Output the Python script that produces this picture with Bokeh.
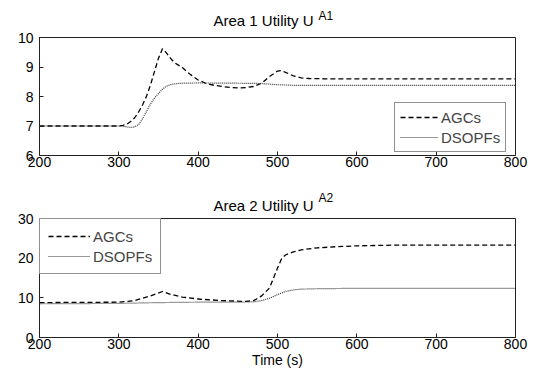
from bokeh.plotting import figure
from bokeh.layouts import column
from bokeh.models import Legend, LegendItem, FixedTicker, Range1d, Label
from bokeh.embed import file_html
from bokeh.resources import INLINE

FONT = "Liberation Sans"

# ---- Area 1 data ----
t1_agc = [200, 300, 305, 310, 315, 320, 325, 330, 335, 340, 345, 350, 355, 360, 365, 370, 380, 390, 400,
          410, 420, 430, 440, 450, 460, 470, 480, 490, 500, 505, 510, 520, 530, 540, 560, 600, 700, 800]
u1_agc = [7.0, 7.0, 7.02, 7.06, 7.15, 7.28, 7.48, 7.72, 8.02, 8.4, 8.85, 9.3, 9.62, 9.48, 9.3, 9.15, 8.98, 8.75, 8.56,
          8.44, 8.38, 8.34, 8.31, 8.29, 8.3, 8.34, 8.45, 8.68, 8.86, 8.88, 8.82, 8.7, 8.63, 8.61, 8.6, 8.6, 8.6, 8.6]
t1_dso = [200, 300, 305, 310, 315, 320, 325, 330, 335, 340, 345, 350, 355, 360, 365, 370, 380, 400, 450, 480,
          490, 500, 520, 800]
u1_dso = [7.0, 7.0, 6.99, 6.97, 6.95, 6.97, 7.05, 7.25, 7.5, 7.75, 7.95, 8.1, 8.25, 8.35, 8.4, 8.43, 8.45, 8.46,
          8.45, 8.44, 8.42, 8.4, 8.38, 8.38]

# ---- Area 2 data ----
t2_agc = [200, 300, 320, 340, 355, 365, 380, 400, 430, 460, 470, 480, 490, 495, 500, 505, 510, 520, 530, 550,
          575, 600, 650, 800]
u2_agc = [8.8, 8.9, 9.3, 10.5, 11.6, 10.9, 10.2, 9.7, 9.3, 9.1, 9.3, 10.5, 12.5, 15.0, 17.5, 19.8, 20.8, 21.6,
          22.1, 22.6, 22.9, 23.1, 23.3, 23.3]
t2_dso = [200, 300, 350, 400, 450, 470, 480, 490, 500, 510, 520, 530, 550, 600, 800]
u2_dso = [8.5, 8.6, 8.8, 8.9, 8.9, 9.0, 9.3, 9.9, 10.8, 11.6, 12.0, 12.2, 12.3, 12.4, 12.4]

x_ticks = [200, 300, 400, 500, 600, 700, 800]
y1_ticks = [6, 7, 8, 9, 10]
y2_ticks = [0, 10, 20, 30]
series_names = ["AGCs", "DSOPFs"]


def base_fig(height, yr, yticks, top, bottom):
    p = figure(width=528, height=height, output_backend="svg", toolbar_location=None,
               x_range=Range1d(200, 800), y_range=Range1d(*yr),
               min_border_left=39, min_border_right=13, min_border_top=top, min_border_bottom=bottom)
    p.title.visible = False
    p.grid.visible = False
    p.outline_line_color = "#222222"
    p.outline_line_width = 1
    for ax in (p.xaxis[0], p.yaxis[0]):
        ax.major_tick_in = 4
        ax.major_tick_out = 0
        ax.minor_tick_in = 0
        ax.minor_tick_out = 0
        ax.major_label_text_font = FONT
        ax.major_label_text_font_size = "14px"
        ax.major_label_text_color = "black"
        ax.axis_line_color = "#222222"
        ax.major_tick_line_color = "#222222"
    p.xaxis[0].ticker = FixedTicker(ticks=x_ticks)
    p.yaxis[0].ticker = FixedTicker(ticks=yticks)
    p.xaxis[0].major_label_standoff = 1
    p.yaxis[0].major_label_standoff = 6
    return p


def add_title(p, main, sup, ytop, main_up, sup_up):
    p.add_layout(Label(x=500, y=ytop, x_offset=-64, y_offset=main_up, text=main, text_align="left",
                       text_baseline="middle", text_font=FONT, text_font_size="15px",
                       text_color="black"), "above")
    p.add_layout(Label(x=500, y=ytop, x_offset=41, y_offset=sup_up, text=sup, text_align="left",
                       text_baseline="middle", text_font=FONT, text_font_size="12px",
                       text_color="black"), "above")


def add_legend(p, r1, r2, pad, gw, **loc):
    leg = Legend(items=[LegendItem(label=series_names[0], renderers=[r1]),
                        LegendItem(label=series_names[1], renderers=[r2])],
                 label_text_font=FONT, label_text_font_size="15px", border_line_color="#222222",
                 border_line_width=1, padding=pad, spacing=2, margin=0, glyph_width=gw, glyph_height=18,
                 label_standoff=3, label_height=18, background_fill_alpha=1.0, **loc)
    p.add_layout(leg, "center")


# Top: Area 1
p1 = base_fig(185, (6, 10), y1_ticks, 37, 30)
a1 = p1.line(t1_agc, u1_agc, line_color="black", line_width=1.3, line_dash="5 3")
d1 = p1.line(t1_dso, u1_dso, line_color="#333333", line_width=1.2, line_dash="1 1")
add_title(p1, "Area 1 Utility U", "A1", 10, 17, 22)
add_legend(p1, a1, d1, 5, 38, location=(355, 3))

# Bottom: Area 2
p2 = base_fig(188, (0, 30), y2_ticks, 33, 36)
a2 = p2.line(t2_agc, u2_agc, line_color="black", line_width=1.3, line_dash="5 3")
d2 = p2.line(t2_dso, u2_dso, line_color="#333333", line_width=1.2, line_dash="1 1")
add_title(p2, "Area 2 Utility U", "A2", 30, 13, 21)
add_legend(p2, a2, d2, 8, 42, location="top_left")
p2.xaxis[0].axis_label = "Time (s)"
p2.xaxis[0].axis_label_text_font = FONT
p2.xaxis[0].axis_label_text_font_size = "14px"
p2.xaxis[0].axis_label_text_font_style = "normal"
p2.xaxis[0].axis_label_text_color = "black"
p2.xaxis[0].axis_label_standoff = 0

layout = column(p1, p2, spacing=0)
open("out.html", "w").write(file_html(layout, INLINE))
